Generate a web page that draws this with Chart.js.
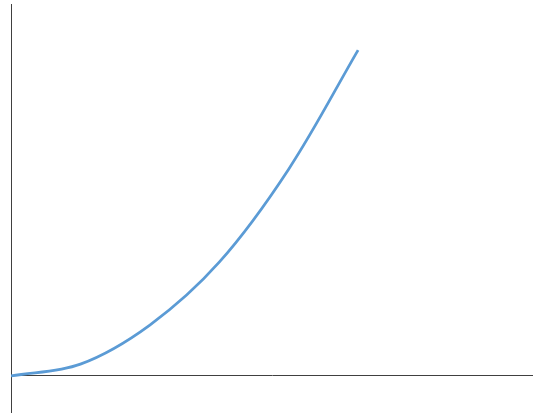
<!DOCTYPE html>
<html>
<head>
<meta charset="utf-8">
<script src="https://cdn.jsdelivr.net/npm/chart.js@4/dist/chart.umd.min.js"></script>
<style>
html,body{margin:0;padding:0;background:#fff;}
canvas{display:block;}
</style>
</head>
<body>
<canvas id="c" width="537" height="417"></canvas>
<script>
const xValues = [0, 1, 2, 3, 4, 5];
const yValues = [0, 3.2, 13.7, 30.6, 55.6, 87.6];
const xMax = 7.52;
const yMin = -9.68;
const yMax = 100;

const data = xValues.map((x, i) => ({x: x, y: yValues[i]}));

new Chart(document.getElementById('c'), {
  type: 'line',
  data: {
    datasets: [{
      data: data,
      borderColor: '#5B9BD5',
      borderWidth: 2.75,
      pointRadius: 0,
      tension: 0.35,
      fill: false
    }]
  },
  options: {
    responsive: false,
    animation: false,
    layout: {padding: {left: 11, right: 4, top: 4, bottom: 5}},
    plugins: {legend: {display: false}, tooltip: {enabled: false}},
    scales: {
      x: {
        type: 'linear',
        display: false,
        min: 0,
        max: xMax
      },
      y: {
        min: yMin,
        max: yMax,
        afterBuildTicks: s => { s.ticks = [{value: 0}]; },
        ticks: {display: false},
        grid: {display: true, drawTicks: false, color: '#404040', lineWidth: 1},
        border: {display: true, color: '#404040', width: 1}
      }
    }
  }
});
</script>
</body>
</html>
